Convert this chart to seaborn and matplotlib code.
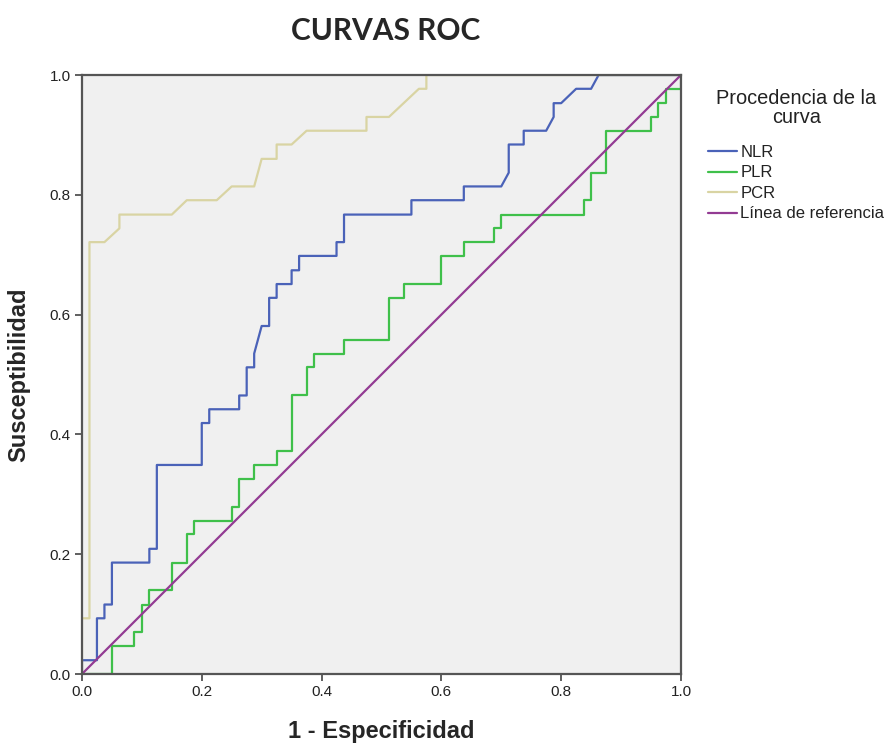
import matplotlib
matplotlib.use('Agg')
import matplotlib.pyplot as plt
import seaborn as sns
import pandas as pd

# ROC step curves (1 - especificidad, susceptibilidad)
nlr_fpr = [0, 0, 0.025, 0.025, 0.0375, 0.0375, 0.05, 0.05, 0.1125, 0.1125, 0.125, 0.125,
           0.2, 0.2, 0.2125, 0.2125, 0.2625, 0.2625, 0.275, 0.275, 0.2875, 0.2875, 0.3, 0.3125,
           0.3125, 0.325, 0.325, 0.35, 0.35, 0.3625, 0.3625, 0.425, 0.425, 0.4375, 0.4375,
           0.55, 0.55, 0.6375, 0.6375, 0.7, 0.7125, 0.7125, 0.7375, 0.7375, 0.775, 0.7875,
           0.7875, 0.8, 0.825, 0.85, 0.8625, 1.0]
nlr_tpr = [0, 0.023, 0.023, 0.093, 0.093, 0.116, 0.116, 0.186, 0.186, 0.209, 0.209, 0.349,
           0.349, 0.419, 0.419, 0.442, 0.442, 0.465, 0.465, 0.512, 0.512, 0.535, 0.581, 0.581,
           0.628, 0.628, 0.651, 0.651, 0.674, 0.674, 0.698, 0.698, 0.721, 0.721, 0.767,
           0.767, 0.791, 0.791, 0.814, 0.814, 0.837, 0.884, 0.884, 0.907, 0.907, 0.930,
           0.953, 0.953, 0.977, 0.977, 1.0, 1.0]

plr_fpr = [0, 0.05, 0.05, 0.0875, 0.0875, 0.1, 0.1, 0.1125, 0.1125, 0.15, 0.15, 0.175, 0.175,
           0.1875, 0.1875, 0.25, 0.25, 0.2625, 0.2625, 0.2875, 0.2875, 0.325, 0.325, 0.35, 0.35,
           0.375, 0.375, 0.3875, 0.3875, 0.4375, 0.4375, 0.5125, 0.5125, 0.5375, 0.5375, 0.6,
           0.6, 0.6375, 0.6375, 0.6875, 0.6875, 0.7, 0.7, 0.8375, 0.8375, 0.85, 0.85, 0.875,
           0.875, 0.95, 0.95, 0.9625, 0.9625, 0.975, 0.975, 1.0, 1.0]
plr_tpr = [0, 0, 0.047, 0.047, 0.070, 0.070, 0.116, 0.116, 0.140, 0.140, 0.186, 0.186, 0.233,
           0.233, 0.256, 0.256, 0.279, 0.279, 0.326, 0.326, 0.349, 0.349, 0.372, 0.372, 0.465,
           0.465, 0.512, 0.512, 0.535, 0.535, 0.558, 0.558, 0.628, 0.628, 0.651, 0.651,
           0.698, 0.698, 0.721, 0.721, 0.744, 0.744, 0.767, 0.767, 0.791, 0.791, 0.837, 0.837,
           0.907, 0.907, 0.930, 0.930, 0.953, 0.953, 0.977, 0.977, 1.0]

pcr_fpr = [0, 0, 0.0125, 0.0125, 0.0375, 0.0625, 0.0625, 0.15, 0.175, 0.225, 0.25, 0.2875,
           0.3, 0.325, 0.325, 0.35, 0.375, 0.475, 0.475, 0.5125, 0.5625, 0.575, 0.575, 1.0]
pcr_tpr = [0, 0.093, 0.093, 0.721, 0.721, 0.744, 0.767, 0.767, 0.791, 0.791, 0.814, 0.814,
           0.860, 0.860, 0.884, 0.884, 0.907, 0.907, 0.930, 0.930, 0.977, 0.977, 1.0, 1.0]

ref_fpr = [0, 1]
ref_tpr = [0, 1]

curves = ['NLR', 'PLR', 'PCR', 'Línea de referencia']
colors = ['#4a62b8', '#3fc04a', '#d9d4a3', '#933b93']

frames = []
for name, xs, ys in zip(curves, [nlr_fpr, plr_fpr, pcr_fpr, ref_fpr],
                        [nlr_tpr, plr_tpr, pcr_tpr, ref_tpr]):
    frames.append(pd.DataFrame({'fpr': xs, 'tpr': ys, 'curva': name}))
df = pd.concat(frames, ignore_index=True)

sns.set_style('ticks')
plt.rcParams['font.family'] = ['Liberation Sans', 'DejaVu Sans']

fig = plt.figure(figsize=(8.9, 7.45), dpi=100)
ax = fig.add_axes([0.0921, 0.0953, 0.673, 0.804])
ax.set_facecolor('#f0f0f0')

sns.lineplot(data=df, x='fpr', y='tpr', hue='curva', hue_order=curves,
             palette=dict(zip(curves, colors)), sort=False, estimator=None,
             units='curva', linewidth=1.6, ax=ax)

ax.set_xlim(0, 1)
ax.set_ylim(0, 1)
ax.set_xticks([0, 0.2, 0.4, 0.6, 0.8, 1.0])
ax.set_yticks([0, 0.2, 0.4, 0.6, 0.8, 1.0])
ax.set_xticklabels(['0.0', '0.2', '0.4', '0.6', '0.8', '1.0'])
ax.set_yticklabels(['0.0', '0.2', '0.4', '0.6', '0.8', '1.0'])
ax.tick_params(direction='out', length=5, width=1.2, color='#444444',
               labelsize=11, labelcolor='#222222', pad=3)
for sp in ax.spines.values():
    sp.set_visible(True)
    sp.set_color('#555555')
    sp.set_linewidth(1.6)

ax.set_xlabel('1 - Especificidad', fontsize=17, fontweight='bold', labelpad=15)
ax.set_ylabel('Susceptibilidad', fontsize=17, fontweight='bold', labelpad=14)
fig.text(0.433, 0.958, 'CURVAS ROC', ha='center', va='center',
         fontsize=21.5, fontweight='bold', family=['Lato', 'DejaVu Sans'])

handles, labels = ax.get_legend_handles_labels()
leg = ax.legend(handles, labels, title='Procedencia de la\ncurva',
                loc='upper left', bbox_to_anchor=(1.02, 1.002), frameon=False,
                fontsize=12, title_fontsize=14.4, handlelength=1.75,
                handletextpad=0.2, labelspacing=0.33)
leg.get_title().set_multialignment('center')
leg.get_title().set_linespacing(1.0)
leg.get_title().set_color('#222222')
for t in leg.get_texts():
    t.set_color('#222222')
leg._legend_box.align = 'center'
leg._legend_box.sep = 13

fig.savefig('out.png', dpi=100)
